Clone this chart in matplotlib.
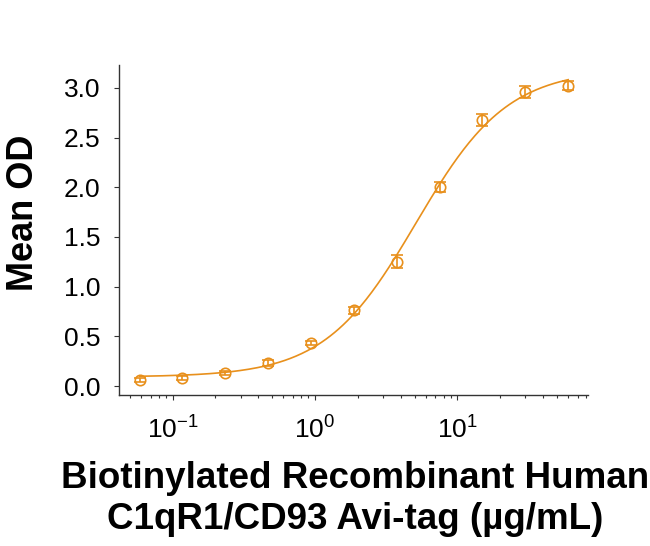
import numpy as np
import matplotlib
matplotlib.use("Agg")
import matplotlib.pyplot as plt
from matplotlib.ticker import LogLocator, NullFormatter, FixedLocator

plt.rcParams['font.family'] = ['Liberation Sans', 'DejaVu Sans']
plt.rcParams['mathtext.fontset'] = 'custom'
plt.rcParams['mathtext.rm'] = 'Liberation Sans'
plt.rcParams['mathtext.it'] = 'Liberation Sans'
plt.rcParams['mathtext.default'] = 'regular'

# Data
concentration = [0.0586, 0.117, 0.234, 0.469, 0.9375, 1.875, 3.75, 7.5, 15, 30, 60]
mean_od = [0.06, 0.085, 0.135, 0.235, 0.43, 0.76, 1.25, 2.0, 2.68, 2.96, 3.02]
od_err = [0.02, 0.02, 0.02, 0.03, 0.02, 0.04, 0.065, 0.05, 0.06, 0.06, 0.045]
y_ticks = [0.0, 0.5, 1.0, 1.5, 2.0, 2.5, 3.0]
x_ticks = [0.1, 1, 10]
x_tick_labels = ['$10^{-1}$', '$10^{0}$', '$10^{1}$']
x_label = "Biotinylated Recombinant Human\nC1qR1/CD93 Avi-tag (\u00b5g/mL)"
y_label = "Mean OD"
color = '#E8901C'

x = np.array(concentration)
y = np.array(mean_od)

# 4-parameter logistic fit to the data (damped Gauss-Newton)
def model(p, xx):
    a, d, c, b = p
    return d + (a - d) / (1 + (xx / c) ** b)

p = np.array([0.05, 3.1, 5.0, 1.3])
lam = 1e-3
for _ in range(500):
    r = y - model(p, x)
    J = np.zeros((len(x), 4))
    for i in range(4):
        dp = np.zeros(4); dp[i] = 1e-6 * max(abs(p[i]), 1e-3)
        J[:, i] = (model(p + dp, x) - model(p, x)) / dp[i]
    A = J.T @ J + lam * np.diag(np.diag(J.T @ J))
    step = np.linalg.solve(A, J.T @ r)
    pn = p + step
    if pn[2] > 0 and np.sum((y - model(pn, x)) ** 2) < np.sum(r ** 2):
        p = pn; lam *= 0.5
    else:
        lam *= 4

xs = np.logspace(np.log10(x.min()), np.log10(x.max()), 300)

fig = plt.figure(figsize=(6.5, 5.46), dpi=100)
ax = fig.add_axes([0.183, 0.2766, 0.722, 0.6044])
ax.plot(xs, model(p, xs), color=color, lw=1.2)
ax.errorbar(x, y, yerr=od_err, fmt='o', mfc='none', mec=color, ecolor=color,
            ms=7.5, mew=1.2, capsize=4.5, elinewidth=1.2, capthick=1.2)

ax.set_xscale('log')
ax.set_xlim(0.042, 83)
ax.set_ylim(-0.09, 3.23)
ax.yaxis.set_major_locator(FixedLocator(y_ticks))
ax.set_yticklabels([f"{v:.1f}" for v in y_ticks])
ax.xaxis.set_major_locator(FixedLocator(x_ticks))
ax.set_xticklabels(x_tick_labels)
ax.xaxis.set_minor_locator(LogLocator(base=10, subs=np.arange(2, 10), numticks=10))
ax.xaxis.set_minor_formatter(NullFormatter())

for s in ['top', 'right']:
    ax.spines[s].set_visible(False)
for s in ['left', 'bottom']:
    ax.spines[s].set_color('#333333')
    ax.spines[s].set_linewidth(1.0)

ax.tick_params(axis='both', which='major', direction='out', length=3.5, width=0.8,
               colors='#333333', labelsize=19, labelcolor='black')
ax.tick_params(axis='y', which='major', pad=10)
ax.tick_params(axis='x', which='major', pad=12)
ax.tick_params(axis='x', which='minor', direction='out', length=2.5, width=0.8, colors='#333333')

fig.text(0.036, 0.611, y_label, rotation=90, fontsize=26, fontweight='bold',
         ha='center', va='center')
fig.text(0.546, 0.086, x_label, fontsize=26.5, fontweight='bold',
         ha='center', va='center', multialignment='center', linespacing=1.25)

fig.savefig('out.png', dpi=100)
